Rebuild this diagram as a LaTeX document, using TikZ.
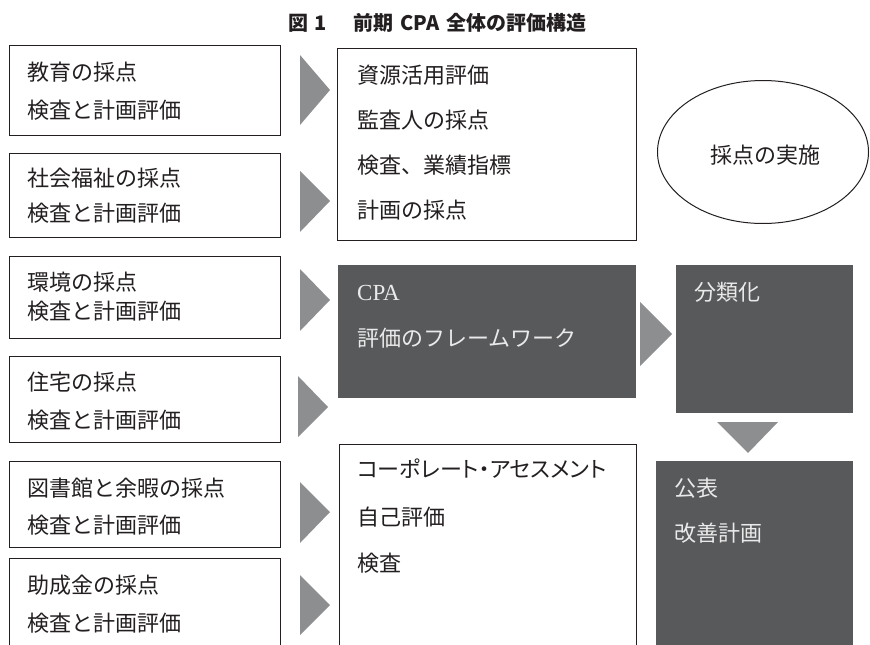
\documentclass[tikz,border=0pt]{standalone}
\usepackage{fontspec}
\setmainfont{Noto Sans CJK JP}
\newfontfamily\jppalt[RawFeature=+palt]{Noto Sans CJK JP}
\newfontfamily\latserif{Liberation Serif}
\usetikzlibrary{shapes.geometric}
\definecolor{darkfill}{HTML}{58595B}
\definecolor{arrowgray}{HTML}{8D8E90}
\definecolor{inkc}{HTML}{231F20}
\definecolor{lighttext}{HTML}{EAEAEA}
\begin{document}
\begin{tikzpicture}[x=1pt,y=-1pt,
  wbox/.style={draw=inkc, line width=1.3pt, fill=white, inner sep=0pt, anchor=north west},
  dbox/.style={fill=darkfill, inner sep=0pt, anchor=north west},
  txt/.style={anchor=west, inner sep=0pt, font=\fontsize{22}{22}\selectfont, text=inkc},
  wtxt/.style={txt, text=lighttext},
  tri/.style={fill=arrowgray},
  title/.style={anchor=west, inner sep=0pt, font=\fontsize{20}{20}\selectfont\bfseries, text=inkc}]
\useasboundingbox (0,0) rectangle (870,645);
\clip (0,0) rectangle (870,645);

% title
\node[title] (ttl) at (288,23) {図\hspace{6pt}1\hspace{27pt}前期\hspace{7pt}CPA\hspace{7pt}全体の評価構造};

% left column boxes
\node[wbox, minimum width=271pt, minimum height=90pt] (b1) at (9,45) {};
\node[wbox, minimum width=271pt, minimum height=84pt] (b2) at (9,153) {};
\node[wbox, minimum width=271pt, minimum height=82pt] (b3) at (9,256) {};
\node[wbox, minimum width=271pt, minimum height=86pt] (b4) at (9,356) {};
\node[wbox, minimum width=271pt, minimum height=86pt] (b5) at (9,461) {};
\node[wbox, minimum width=271pt, minimum height=110pt] (b6) at (9,558) {};

\node[txt] (b1a) at (27,72) {教育の採点};
\node[txt] (b1b) at (27,110) {検査と計画評価};
\node[txt] (b2a) at (27,178) {社会福祉の採点};
\node[txt] (b2b) at (27,213) {検査と計画評価};
\node[txt] (b3a) at (27,282) {環境の採点};
\node[txt] (b3b) at (27,311) {検査と計画評価};
\node[txt] (b4a) at (27,382) {住宅の採点};
\node[txt] (b4b) at (27,420) {検査と計画評価};
\node[txt] (b5a) at (27,488) {図書館と余暇の採点};
\node[txt] (b5b) at (27,525) {検査と計画評価};
\node[txt] (b6a) at (27,585) {助成金の採点};
\node[txt] (b6b) at (27,623) {検査と計画評価};

% triangles
\fill[tri] (300,55) -- (330,90) -- (300,125) -- cycle;
\fill[tri] (300,171) -- (330,201) -- (300,232) -- cycle;
\fill[tri] (300,269) -- (330,300) -- (300,331) -- cycle;
\fill[tri] (298,376) -- (328,407) -- (298,437) -- cycle;
\fill[tri] (300,482) -- (330,512) -- (300,543) -- cycle;
\fill[tri] (300,575) -- (330,605) -- (300,635) -- cycle;

% center upper white box
\node[wbox, minimum width=299pt, minimum height=192pt] (c1) at (337,48) {};
\node[txt] (c1a) at (357,75) {資源活用評価};
\node[txt] (c1b) at (357,120) {監査人の採点};
\node[txt] (c1c) at (357,165) {検査、業績指標};
\node[txt] (c1d) at (357,210) {計画の採点};

% CPA dark box
\node[dbox, minimum width=298pt, minimum height=133pt] (cpa) at (338,265) {};
\node[wtxt, font=\fontsize{23}{23}\selectfont\latserif] (cpaa) at (357,293) {CPA};
\node[wtxt] (cpab) at (357,338) {評価のフレームワーク};

% arrow to classification
\fill[tri] (640,302) -- (672,334) -- (640,366) -- cycle;

% classification box
\node[dbox, minimum width=177pt, minimum height=148pt] (cls) at (676,265) {};
\node[wtxt] (clsa) at (694,292) {分類化};

% down arrow
\fill[tri] (717,422) -- (778,422) -- (748,453) -- cycle;

% publication box
\node[dbox, minimum width=197pt, minimum height=200pt] (pub) at (656,461) {};
\node[wtxt] (puba) at (674,488) {公表};
\node[wtxt] (pubb) at (674,533) {改善計画};

% center lower white box
\node[wbox, minimum width=297pt, minimum height=220pt] (c2) at (339,444) {};
\node[txt, font=\fontsize{22}{22}\selectfont\jppalt] (c2a) at (357,469) {コーポレート・アセスメント};
\node[txt] (c2b) at (357,517) {自己評価};
\node[txt] (c2c) at (357,563) {検査};

% ellipse
\node[draw=inkc, line width=1pt, ellipse, minimum width=211pt, minimum height=143pt, inner sep=0pt] (ell) at (763,152) {};
\node[txt, anchor=center] (ellt) at (765,155) {採点の実施};
\end{tikzpicture}
\end{document}
